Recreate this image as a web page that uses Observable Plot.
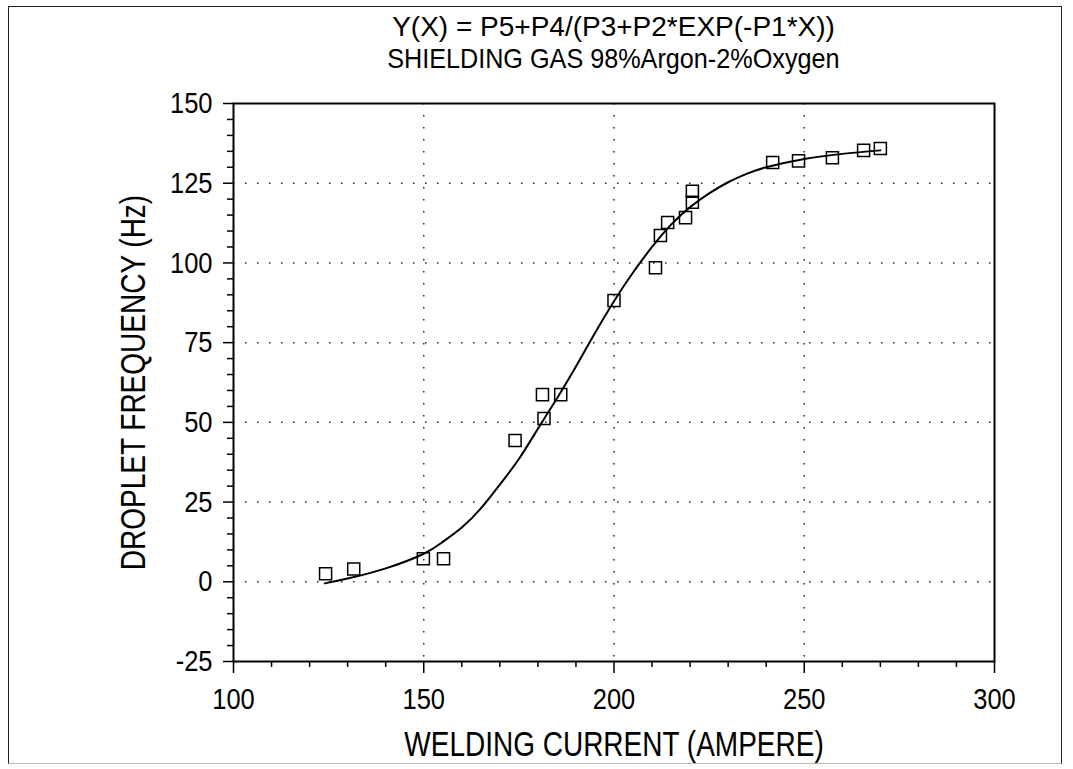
<!DOCTYPE html>
<html>
<head>
<meta charset="utf-8">
<script src="https://cdn.jsdelivr.net/npm/d3@7"></script>
<script src="https://cdn.jsdelivr.net/npm/@observablehq/plot@0.6"></script>
<style>
  html, body { margin: 0; padding: 0; background: #fff; }
  #wrap { position: relative; width: 1073px; height: 769px; overflow: hidden; font-family: "Liberation Sans", Arial, sans-serif; }
  #border { position: absolute; left: 8px; top: 6px; width: 1054px; height: 758px; border: 1.5px solid #222; border-bottom-color: #bbb; box-sizing: border-box; }
  .title { position: absolute; left: 233px; width: 761px; text-align: center; font-size: 28px; color: #000; line-height: 1; white-space: nowrap; }
  .title span { display: inline-block; transform-origin: center; }
  #chart { position: absolute; left: 0; top: 0; }
</style>
</head>
<body>
<div id="wrap">
  <div id="border"></div>
  <div class="title" style="top:13px"><span style="transform:scaleX(1.0)">Y(X) = P5+P4/(P3+P2*EXP(-P1*X))</span></div>
  <div class="title" style="top:45px"><span style="transform:scaleX(0.9)">SHIELDING GAS 98%Argon-2%Oxygen</span></div>
  <div id="chart"></div>
</div>
<script>
// Measured data points (welding current, droplet frequency)
const pointCurrent = [124.2, 131.6, 149.9, 155.2, 174.0, 181.2, 181.6, 186.0, 200.0, 210.9, 212.2, 214.1, 218.8, 220.6, 220.6, 241.7, 248.5, 257.4, 265.6, 270.0];
const pointFreq    = [2.5,   4.0,   7.2,   7.2,   44.3,  58.7,  51.2,  58.7,  88.2,  98.5,  108.6, 112.7, 114.2, 119.0, 122.5, 131.5, 132.0, 133.0, 135.3, 135.9];

// Fitted curve
const curveCurrent = [124, 130, 140, 150, 155, 160, 165, 170, 175, 180, 185, 190, 195, 200, 205, 210, 215, 220, 225, 230, 235, 240, 250, 260, 270];
const curveFreq    = [-0.5, 1.0, 4.2, 8.8, 12.5, 17, 23, 30.5, 38.5, 48, 57.5, 67.5, 78, 88, 97, 105, 112, 117.5, 121.8, 125.3, 128, 130, 132.6, 134.2, 135.3];

// Axis ticks
const xMajorTicks = [100, 150, 200, 250, 300];
const xMinorTicks = [110, 120, 130, 140, 160, 170, 180, 190, 210, 220, 230, 240, 260, 270, 280, 290];
const xGridTicks  = [150, 200, 250];
const yMajorTicks = [-25, 0, 25, 50, 75, 100, 125, 150];
const yMinorTicks = [-20, -15, -10, -5, 5, 10, 15, 20, 30, 35, 40, 45, 55, 60, 65, 70, 80, 85, 90, 95, 105, 110, 115, 120, 130, 135, 140, 145];
const yGridTicks  = [0, 25, 50, 75, 100, 125];

const xLabel = "WELDING CURRENT (AMPERE)";
const yLabel = "DROPLET FREQUENCY (Hz)";

const points = pointCurrent.map((x, i) => ({x, y: pointFreq[i]}));
const curve = curveCurrent.map((x, i) => ({x, y: curveFreq[i]}));
const fmt = d => String(d);

const chart = Plot.plot({
  width: 1073,
  height: 769,
  marginTop: 103,
  marginBottom: 108,
  marginLeft: 233,
  marginRight: 79,
  x: {domain: [100, 300]},
  y: {domain: [-25, 150]},
  style: {
    fontFamily: '"Liberation Sans", Arial, sans-serif',
    fontSize: "30px",
    color: "#000",
    background: "transparent"
  },
  marks: [
    Plot.gridY(yGridTicks, {stroke: "#000", strokeOpacity: 0.85, strokeWidth: 1.5, strokeDasharray: "1.5,10.5"}),
    Plot.gridX(xGridTicks, {stroke: "#000", strokeOpacity: 0.85, strokeWidth: 1.5, strokeDasharray: "1.5,10.5"}),
    Plot.frame({stroke: "#000", strokeWidth: 2}),
    Plot.axisY(yMinorTicks, {tickSize: 6, text: null, label: null, strokeWidth: 1.5}),
    Plot.axisY(yMajorTicks, {tickSize: 10, tickPadding: 11, strokeWidth: 1.5, tickFormat: fmt,
      label: yLabel, labelAnchor: "center", labelArrow: "none", labelOffset: 113}),
    Plot.axisX(xMinorTicks, {tickSize: 6, text: null, label: null, strokeWidth: 1.5}),
    Plot.axisX(xMajorTicks, {tickSize: 12, tickPadding: 14, strokeWidth: 1.5, tickFormat: fmt,
      label: xLabel, labelAnchor: "center", labelArrow: "none", labelOffset: 94}),
    Plot.line(curve, {x: "x", y: "y", stroke: "#000", strokeWidth: 2, curve: "natural"}),
    Plot.dot(points, {x: "x", y: "y", symbol: "square", r: 6.8, stroke: "#000", fill: "none", strokeWidth: 1.5})
  ]
});

// Narrow the type to match the condensed face of the original
function squeeze(sel, k) {
  chart.querySelectorAll(sel).forEach(t => {
    const tr = t.getAttribute("transform");
    if (tr) t.setAttribute("transform", tr + ` scale(${k},1)`);
  });
}
chart.querySelectorAll('g[aria-label="x-axis label"], g[aria-label="y-axis label"]').forEach(g => { g.style.fontSize = "35px"; });
squeeze('g[aria-label="x-axis label"] text, g[aria-label="y-axis label"] text', 0.8);
squeeze('g[aria-label="x-axis tick label"] text, g[aria-label="y-axis tick label"] text', 0.85);

document.getElementById("chart").appendChild(chart);
</script>
</body>
</html>
